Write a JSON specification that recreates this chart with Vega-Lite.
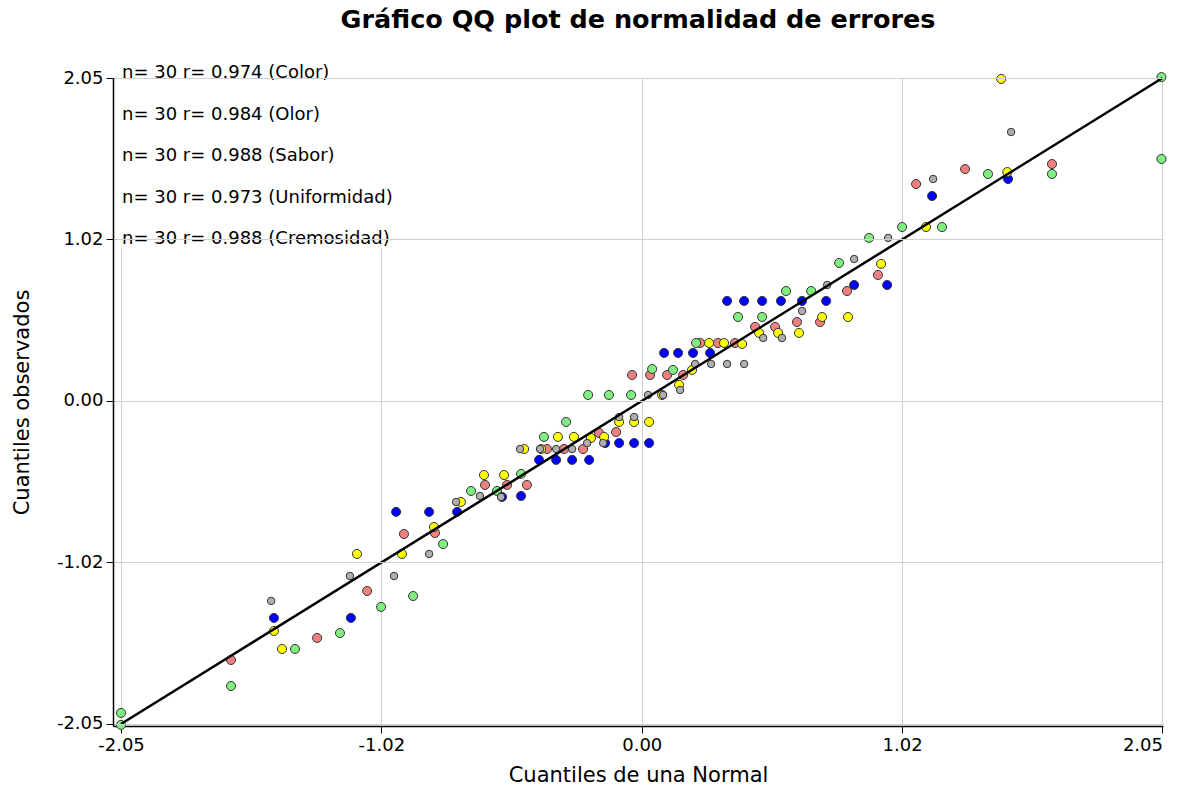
{
  "$schema": "https://vega.github.io/schema/vega-lite/v6.json",
  "width": 1050,
  "height": 648,
  "autosize": "none",
  "padding": {"left": 113, "top": 78, "right": 27, "bottom": 62},
  "background": "white",
  "title": {"text": "Gráfico QQ plot de normalidad de errores", "font": "DejaVu Sans", "fontSize": 25.5, "fontWeight": "bold", "color": "black", "anchor": "middle", "offset": 31},
  "datasets": {
    "puntos": [
      {"serie": "Color", "normal": -1.617, "observado": -1.644},
      {"serie": "Color", "normal": -1.278, "observado": -1.504},
      {"serie": "Color", "normal": -1.081, "observado": -1.206},
      {"serie": "Color", "normal": -0.936, "observado": -0.844},
      {"serie": "Color", "normal": -0.814, "observado": -0.838},
      {"serie": "Color", "normal": -0.617, "observado": -0.533},
      {"serie": "Color", "normal": -0.530, "observado": -0.533},
      {"serie": "Color", "normal": -0.452, "observado": -0.533},
      {"serie": "Color", "normal": -0.373, "observado": -0.305},
      {"serie": "Color", "normal": -0.306, "observado": -0.305},
      {"serie": "Color", "normal": -0.231, "observado": -0.305},
      {"serie": "Color", "normal": -0.168, "observado": -0.203},
      {"serie": "Color", "normal": -0.101, "observado": -0.197},
      {"serie": "Color", "normal": -0.038, "observado": 0.165},
      {"serie": "Color", "normal": 0.033, "observado": 0.165},
      {"serie": "Color", "normal": 0.100, "observado": 0.165},
      {"serie": "Color", "normal": 0.163, "observado": 0.165},
      {"serie": "Color", "normal": 0.230, "observado": 0.368},
      {"serie": "Color", "normal": 0.300, "observado": 0.368},
      {"serie": "Color", "normal": 0.367, "observado": 0.368},
      {"serie": "Color", "normal": 0.446, "observado": 0.470},
      {"serie": "Color", "normal": 0.525, "observado": 0.470},
      {"serie": "Color", "normal": 0.611, "observado": 0.501},
      {"serie": "Color", "normal": 0.702, "observado": 0.501},
      {"serie": "Color", "normal": 0.808, "observado": 0.698},
      {"serie": "Color", "normal": 0.930, "observado": 0.800},
      {"serie": "Color", "normal": 1.080, "observado": 1.377},
      {"serie": "Color", "normal": 1.273, "observado": 1.472},
      {"serie": "Color", "normal": 1.615, "observado": 1.504},
      {"serie": "Olor", "normal": -2.050, "observado": -1.980},
      {"serie": "Olor", "normal": -2.050, "observado": -2.056},
      {"serie": "Olor", "normal": -1.617, "observado": -1.809},
      {"serie": "Olor", "normal": -1.365, "observado": -1.574},
      {"serie": "Olor", "normal": -1.188, "observado": -1.473},
      {"serie": "Olor", "normal": -1.026, "observado": -1.307},
      {"serie": "Olor", "normal": -0.900, "observado": -1.238},
      {"serie": "Olor", "normal": -0.782, "observado": -0.908},
      {"serie": "Olor", "normal": -0.672, "observado": -0.571},
      {"serie": "Olor", "normal": -0.570, "observado": -0.571},
      {"serie": "Olor", "normal": -0.475, "observado": -0.463},
      {"serie": "Olor", "normal": -0.385, "observado": -0.228},
      {"serie": "Olor", "normal": -0.298, "observado": -0.133},
      {"serie": "Olor", "normal": -0.211, "observado": 0.038},
      {"serie": "Olor", "normal": -0.129, "observado": 0.038},
      {"serie": "Olor", "normal": -0.042, "observado": 0.038},
      {"serie": "Olor", "normal": 0.041, "observado": 0.203},
      {"serie": "Olor", "normal": 0.123, "observado": 0.197},
      {"serie": "Olor", "normal": 0.214, "observado": 0.368},
      {"serie": "Olor", "normal": 0.379, "observado": 0.533},
      {"serie": "Olor", "normal": 0.474, "observado": 0.533},
      {"serie": "Olor", "normal": 0.568, "observado": 0.698},
      {"serie": "Olor", "normal": 0.667, "observado": 0.698},
      {"serie": "Olor", "normal": 0.777, "observado": 0.876},
      {"serie": "Olor", "normal": 0.895, "observado": 1.035},
      {"serie": "Olor", "normal": 1.025, "observado": 1.104},
      {"serie": "Olor", "normal": 1.182, "observado": 1.104},
      {"serie": "Olor", "normal": 1.363, "observado": 1.441},
      {"serie": "Olor", "normal": 1.615, "observado": 1.441},
      {"serie": "Olor", "normal": 2.046, "observado": 1.536},
      {"serie": "Olor", "normal": 2.046, "observado": 2.056},
      {"serie": "Sabor", "normal": -1.448, "observado": -1.377},
      {"serie": "Sabor", "normal": -1.145, "observado": -1.377},
      {"serie": "Sabor", "normal": -0.967, "observado": -0.704},
      {"serie": "Sabor", "normal": -0.837, "observado": -0.704},
      {"serie": "Sabor", "normal": -0.727, "observado": -0.704},
      {"serie": "Sabor", "normal": -0.550, "observado": -0.609},
      {"serie": "Sabor", "normal": -0.475, "observado": -0.603},
      {"serie": "Sabor", "normal": -0.404, "observado": -0.374},
      {"serie": "Sabor", "normal": -0.337, "observado": -0.374},
      {"serie": "Sabor", "normal": -0.274, "observado": -0.374},
      {"serie": "Sabor", "normal": -0.207, "observado": -0.374},
      {"serie": "Sabor", "normal": -0.144, "observado": -0.267},
      {"serie": "Sabor", "normal": -0.089, "observado": -0.267},
      {"serie": "Sabor", "normal": -0.030, "observado": -0.267},
      {"serie": "Sabor", "normal": 0.029, "observado": -0.267},
      {"serie": "Sabor", "normal": 0.088, "observado": 0.305},
      {"serie": "Sabor", "normal": 0.143, "observado": 0.305},
      {"serie": "Sabor", "normal": 0.202, "observado": 0.305},
      {"serie": "Sabor", "normal": 0.269, "observado": 0.305},
      {"serie": "Sabor", "normal": 0.336, "observado": 0.635},
      {"serie": "Sabor", "normal": 0.403, "observado": 0.635},
      {"serie": "Sabor", "normal": 0.474, "observado": 0.635},
      {"serie": "Sabor", "normal": 0.548, "observado": 0.635},
      {"serie": "Sabor", "normal": 0.631, "observado": 0.635},
      {"serie": "Sabor", "normal": 0.726, "observado": 0.635},
      {"serie": "Sabor", "normal": 0.836, "observado": 0.736},
      {"serie": "Sabor", "normal": 0.966, "observado": 0.736},
      {"serie": "Sabor", "normal": 1.143, "observado": 1.301},
      {"serie": "Sabor", "normal": 1.442, "observado": 1.409},
      {"serie": "Uniformidad", "normal": -1.448, "observado": -1.460},
      {"serie": "Uniformidad", "normal": -1.416, "observado": -1.574},
      {"serie": "Uniformidad", "normal": -1.121, "observado": -0.971},
      {"serie": "Uniformidad", "normal": -0.944, "observado": -0.971},
      {"serie": "Uniformidad", "normal": -0.818, "observado": -0.800},
      {"serie": "Uniformidad", "normal": -0.712, "observado": -0.641},
      {"serie": "Uniformidad", "normal": -0.621, "observado": -0.470},
      {"serie": "Uniformidad", "normal": -0.542, "observado": -0.470},
      {"serie": "Uniformidad", "normal": -0.463, "observado": -0.305},
      {"serie": "Uniformidad", "normal": -0.396, "observado": -0.305},
      {"serie": "Uniformidad", "normal": -0.330, "observado": -0.228},
      {"serie": "Uniformidad", "normal": -0.267, "observado": -0.228},
      {"serie": "Uniformidad", "normal": -0.200, "observado": -0.235},
      {"serie": "Uniformidad", "normal": -0.148, "observado": -0.228},
      {"serie": "Uniformidad", "normal": -0.089, "observado": -0.133},
      {"serie": "Uniformidad", "normal": -0.030, "observado": -0.133},
      {"serie": "Uniformidad", "normal": 0.029, "observado": -0.133},
      {"serie": "Uniformidad", "normal": 0.080, "observado": 0.038},
      {"serie": "Uniformidad", "normal": 0.147, "observado": 0.102},
      {"serie": "Uniformidad", "normal": 0.198, "observado": 0.197},
      {"serie": "Uniformidad", "normal": 0.265, "observado": 0.368},
      {"serie": "Uniformidad", "normal": 0.324, "observado": 0.368},
      {"serie": "Uniformidad", "normal": 0.395, "observado": 0.362},
      {"serie": "Uniformidad", "normal": 0.462, "observado": 0.432},
      {"serie": "Uniformidad", "normal": 0.537, "observado": 0.432},
      {"serie": "Uniformidad", "normal": 0.619, "observado": 0.432},
      {"serie": "Uniformidad", "normal": 0.710, "observado": 0.533},
      {"serie": "Uniformidad", "normal": 0.812, "observado": 0.533},
      {"serie": "Uniformidad", "normal": 0.942, "observado": 0.870},
      {"serie": "Uniformidad", "normal": 1.119, "observado": 1.104},
      {"serie": "Uniformidad", "normal": 1.439, "observado": 1.453},
      {"serie": "Uniformidad", "normal": 1.415, "observado": 2.044},
      {"serie": "Cremosidad", "normal": -1.459, "observado": -1.269},
      {"serie": "Cremosidad", "normal": -1.149, "observado": -1.111},
      {"serie": "Cremosidad", "normal": -0.975, "observado": -1.111},
      {"serie": "Cremosidad", "normal": -0.837, "observado": -0.971},
      {"serie": "Cremosidad", "normal": -0.731, "observado": -0.641},
      {"serie": "Cremosidad", "normal": -0.637, "observado": -0.603},
      {"serie": "Cremosidad", "normal": -0.554, "observado": -0.609},
      {"serie": "Cremosidad", "normal": -0.479, "observado": -0.305},
      {"serie": "Cremosidad", "normal": -0.400, "observado": -0.305},
      {"serie": "Cremosidad", "normal": -0.337, "observado": -0.305},
      {"serie": "Cremosidad", "normal": -0.274, "observado": -0.305},
      {"serie": "Cremosidad", "normal": -0.215, "observado": -0.267},
      {"serie": "Cremosidad", "normal": -0.152, "observado": -0.267},
      {"serie": "Cremosidad", "normal": -0.089, "observado": -0.102},
      {"serie": "Cremosidad", "normal": -0.030, "observado": -0.102},
      {"serie": "Cremosidad", "normal": 0.025, "observado": 0.038},
      {"serie": "Cremosidad", "normal": 0.084, "observado": 0.038},
      {"serie": "Cremosidad", "normal": 0.151, "observado": 0.070},
      {"serie": "Cremosidad", "normal": 0.210, "observado": 0.235},
      {"serie": "Cremosidad", "normal": 0.273, "observado": 0.235},
      {"serie": "Cremosidad", "normal": 0.336, "observado": 0.235},
      {"serie": "Cremosidad", "normal": 0.403, "observado": 0.235},
      {"serie": "Cremosidad", "normal": 0.478, "observado": 0.400},
      {"serie": "Cremosidad", "normal": 0.552, "observado": 0.400},
      {"serie": "Cremosidad", "normal": 0.631, "observado": 0.571},
      {"serie": "Cremosidad", "normal": 0.730, "observado": 0.736},
      {"serie": "Cremosidad", "normal": 0.836, "observado": 0.901},
      {"serie": "Cremosidad", "normal": 0.970, "observado": 1.035},
      {"serie": "Cremosidad", "normal": 1.147, "observado": 1.409},
      {"serie": "Cremosidad", "normal": 1.454, "observado": 1.707}
    ],
    "recta": [
      {"normal": -2.05, "observado": -2.05},
      {"normal": 2.05, "observado": 2.05}
    ]
  },
  "layer": [
    {
      "data": {"name": "puntos"},
      "mark": {"type": "circle", "stroke": "#333333", "strokeWidth": 1, "opacity": 1},
      "encoding": {
        "x": {
          "field": "normal", "type": "quantitative",
          "scale": {"domain": [-2.0815, 2.052], "nice": false, "zero": false},
          "axis": {
            "title": "Cuantiles de una Normal",
            "values": [-2.05, -1.025, 0, 1.025, 2.05],
            "labelExpr": "datum.value < 0 ? '-' + format(-datum.value, '.2f') : format(datum.value, '.2f')",
            "titleY": 49, "titleBaseline": "middle"
          }
        },
        "y": {
          "field": "observado", "type": "quantitative",
          "scale": {"domain": [-2.063, 2.05], "nice": false, "zero": false},
          "axis": {
            "title": "Cuantiles observados",
            "values": [-2.05, -1.025, 0, 1.025, 2.05],
            "labelExpr": "datum.value < 0 ? '-' + format(-datum.value, '.2f') : format(datum.value, '.2f')",
            "titleX": -91, "titleBaseline": "middle",
            "zindex": 1
          }
        },
        "color": {
          "field": "serie", "type": "nominal",
          "scale": {"domain": ["Color", "Olor", "Sabor", "Uniformidad", "Cremosidad"], "range": ["#F08080", "#80EE80", "#0000FF", "#FFFF00", "#B0B0B0"]},
          "legend": {
            "orient": "none", "legendX": -9, "legendY": -14, "title": null,
            "symbolSize": 0.01, "symbolStrokeWidth": 0, "symbolOpacity": 0, "labelOffset": 0,
            "labelFont": "DejaVu Sans", "labelFontSize": 18, "labelColor": "black", "labelLimit": 500,
            "rowPadding": 23.5, "fillColor": "white", "padding": 0,
            "labelExpr": "datum.label == 'Color' ? 'n= 30 r= 0.974 (Color)' : datum.label == 'Olor' ? 'n= 30 r= 0.984 (Olor)' : datum.label == 'Sabor' ? 'n= 30 r= 0.988 (Sabor)' : datum.label == 'Uniformidad' ? 'n= 30 r= 0.973 (Uniformidad)' : 'n= 30 r= 0.988 (Cremosidad)'"
          }
        },
        "size": {
          "condition": {"test": "datum.serie == 'Cremosidad'", "value": 55},
          "value": 82
        }
      }
    },
    {
      "data": {"name": "recta"},
      "mark": {"type": "line", "color": "black", "strokeWidth": 2.5},
      "encoding": {
        "x": {"field": "normal", "type": "quantitative"},
        "y": {"field": "observado", "type": "quantitative"}
      }
    }
  ],
  "config": {
    "view": {"stroke": null},
    "axis": {
      "labelFont": "DejaVu Sans", "labelFontSize": 18, "labelColor": "black",
      "titleFont": "DejaVu Sans", "titleFontSize": 21, "titleFontWeight": "normal", "titleColor": "black",
      "domainColor": "black", "domainWidth": 1.5, "tickColor": "black", "tickSize": 7, "tickWidth": 1,
      "gridColor": "#d0d0d0", "gridWidth": 1, "labelPadding": 3, "grid": true
    }
  }
}
